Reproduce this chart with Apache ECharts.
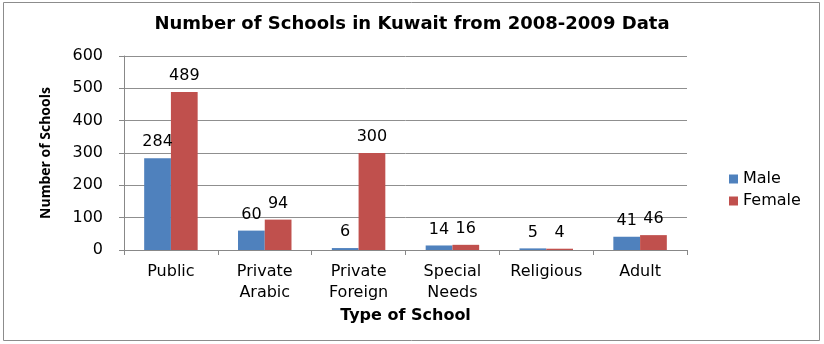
<!DOCTYPE html>
<html><head><meta charset="utf-8">
<script src="https://cdn.jsdelivr.net/npm/echarts@6/dist/echarts.min.js"></script>
<style>html,body{margin:0;padding:0;background:#fff}#c{width:824px;height:344px}</style>
</head><body><div id="c"></div>
<script>
const categories = ['Public', 'Private\nArabic', 'Private\nForeign', 'Special\nNeeds', 'Religious', 'Adult'];
const maleValues = [284, 60, 6, 14, 5, 41];
const femaleValues = [489, 94, 300, 16, 4, 46];
const yTicks = [0, 100, 200, 300, 400, 500, 600];

const chart = echarts.init(document.getElementById('c'), null, {renderer: 'canvas'});
const labelFont = 'DejaVu Sans';
chart.setOption({
  animation: false,
  backgroundColor: '#fff',
  graphic: [{type: 'rect', shape: {x: 3.5, y: 2.5, width: 816, height: 338}, style: {fill: 'none', stroke: '#8c8c8c', lineWidth: 1}}],
  title: {text: 'Number of Schools in Kuwait from 2008-2009 Data', left: 'center', top: 10,
    textStyle: {fontFamily: 'DejaVu Sans', fontWeight: 'bold', fontSize: 18, color: '#000'}},
  legend: {orient: 'vertical', left: 724, top: 166, itemWidth: 9, itemHeight: 9, itemGap: 6,
    icon: 'rect', textStyle: {fontFamily: labelFont, fontSize: 16, color: '#000'}},
  grid: {left: 124, right: 137, top: 56, bottom: 94},
  xAxis: {type: 'category', data: categories,
    axisLine: {lineStyle: {color: '#888'}}, axisTick: {show: true, length: 5, lineStyle: {color: '#888'}},
    axisLabel: {fontFamily: labelFont, fontSize: 16, color: '#000', lineHeight: 21, margin: 11, interval: 0},
    name: 'Type of School', nameLocation: 'middle', nameGap: 58,
    nameTextStyle: {fontFamily: 'DejaVu Sans', fontWeight: 'bold', fontSize: 16, color: '#000'}},
  yAxis: {type: 'value', min: yTicks[0], max: yTicks[yTicks.length - 1], interval: 100,
    axisLine: {show: true, lineStyle: {color: '#888'}}, axisTick: {show: true, length: 5, lineStyle: {color: '#888'}},
    splitLine: {lineStyle: {color: '#8f8f8f'}},
    axisLabel: {fontFamily: labelFont, fontSize: 16, color: '#000', margin: 21},
    name: 'Number of Schools', nameLocation: 'middle', nameGap: 71,
    nameTextStyle: {fontFamily: 'Open Sans', fontWeight: 'bold', fontSize: 14, color: '#000'}},
  series: [
    {name: 'Male', type: 'bar', data: maleValues, barGap: '0%', barCategoryGap: '43%',
      itemStyle: {color: '#4F81BD'},
      label: {show: true, position: 'top', distance: 8, fontFamily: labelFont, fontSize: 16, color: '#000'}},
    {name: 'Female', type: 'bar', data: femaleValues,
      itemStyle: {color: '#C0504D'},
      label: {show: true, position: 'top', distance: 8, fontFamily: labelFont, fontSize: 16, color: '#000'}}
  ]
});
</script></body></html>
